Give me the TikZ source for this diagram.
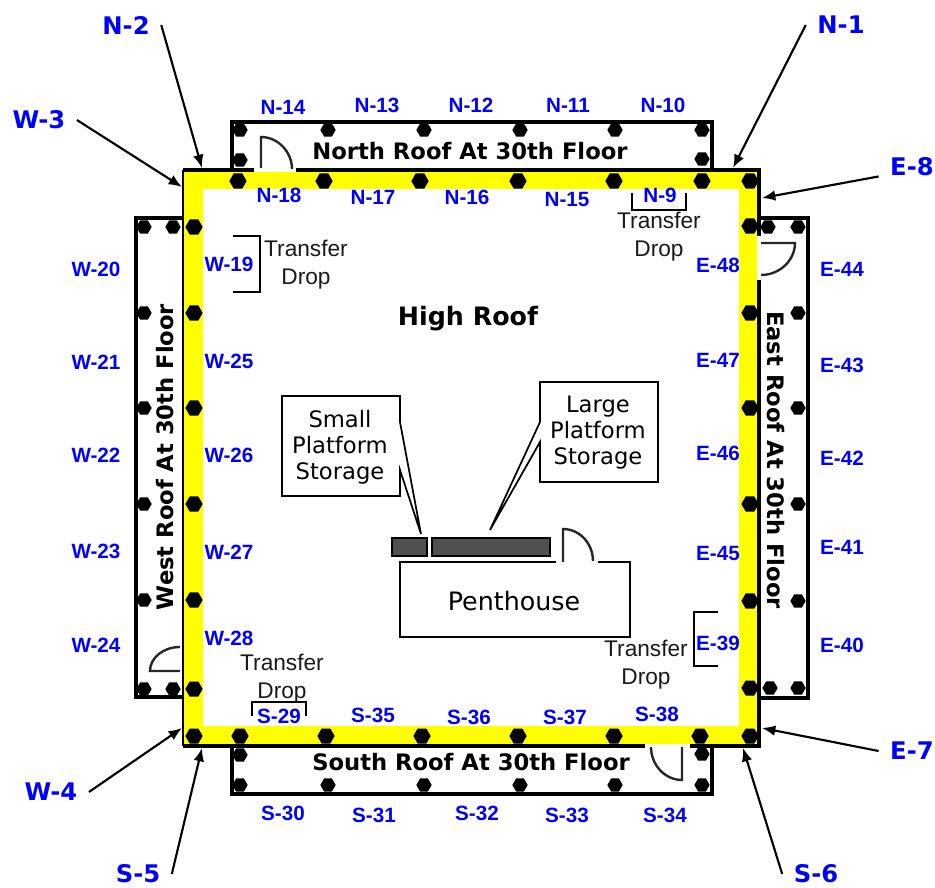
\documentclass[tikz,border=0pt]{standalone}
\usepackage{fontspec}
\setmainfont{Liberation Sans}
\newfontfamily\verdfont{DejaVu Sans}
\usepackage{xcolor}
\usetikzlibrary{shapes.geometric, arrows.meta}
\definecolor{labelblue}{RGB}{0,0,255}
\definecolor{storagegray}{RGB}{80,80,80}
\definecolor{wallyellow}{RGB}{255,255,0}

\begin{document}
\begin{tikzpicture}[x=0.75pt,y=-0.75pt]
	\tikzset{
		wall/.style={draw=black, line width=3pt},
		door/.style={draw=black!85, line width=1.8pt},
		bracket/.style={draw=black, line width=1.2pt},
		bolt/.style={regular polygon, regular polygon sides=6, fill=black, inner sep=0pt, minimum size=11.5pt},
		bigbolt/.style={bolt, minimum size=13pt},
		anchorlabel/.style={font=\fontsize{15.5}{18}\selectfont\bfseries, text=labelblue, inner sep=0pt},
		cornerlabel/.style={font=\fontsize{18.2}{22}\verdfont\bfseries, text=labelblue, inner xsep=8.5pt, inner ysep=0pt},
		roofname/.style={font=\fontsize{17}{20}\verdfont\bfseries, inner sep=0pt},
		notebox/.style={font=\fontsize{17}{19.5}\verdfont, align=center, inner sep=0pt},
		droptext/.style={font=\fontsize{17}{21}\selectfont, align=center, inner sep=0pt, text=black!90},
		pointer/.style={-{Latex[length=10pt,width=8pt]}, line width=1.6pt},
	}
	\useasboundingbox (0,0) rectangle (935,888);

	% roofs at 30th floor
	\draw[wall] (232,170) -- (232,122) -- (712,122) -- (712,170);
	\draw[wall] (232,746) -- (232,794) -- (712,794) -- (712,746);
	\draw[wall] (183,218) -- (136,218) -- (136,697) -- (183,697);
	\draw[wall] (760,218) -- (808,218) -- (808,698) -- (760,698);

	% high roof wall
	\fill[wallyellow, even odd rule] (183,172) rectangle (757,744) (203,189) rectangle (739,726);
	\draw[wall] (183,170) -- (254,170);
	\draw[wall] (296,170) -- (761,170);
	\draw[wall] (759,168) -- (759,236);
	\draw[wall] (759,280) -- (759,748);
	\draw[wall] (761,746) -- (690,746);
	\draw[wall] (645,746) -- (183,746);
	\draw[draw=black, line width=1.3pt] (183,170) -- (183,746);

	% doors
	\draw[door] (261,168) -- (261,137) .. controls (278,137) and (292,152) .. (292,169);
	\draw[door] (761,243) -- (795,243) .. controls (795,260) and (780,275) .. (761,275);
	\draw[door] (682,747) -- (682,780) .. controls (665,780) and (651,765) .. (651,747);
	\draw[door] (180,671) -- (150,671) .. controls (150,658) and (163,647) .. (180,647);
	\draw[door] (563,562) -- (563,529) .. controls (580,529) and (593,544) .. (593,561);

	% penthouse and storage
	\draw[draw=black, line width=1.5pt] (556,562) -- (400,562) -- (400,637) -- (630,637) -- (630,562) -- (598,562);
	\draw[draw=black, fill=storagegray, line width=1.3pt] (392,538) rectangle (427,556);
	\draw[draw=black, fill=storagegray, line width=1.3pt] (432,538) rectangle (550,556);
	\draw[draw=black, line width=1.3pt] (400,422) -- (400,396) -- (282,396) -- (282,496) -- (400,496) -- (400,470) -- (421,534) -- cycle;
	\draw[draw=black, line width=1.3pt] (540,422) -- (540,382) -- (658,382) -- (658,482) -- (540,482) -- (540,442) -- (490,530) -- cycle;

	% transfer drops
	\draw[bracket] (233,236) -- (260,236) -- (260,292) -- (233,292);
	\draw[bracket] (632,193) -- (632,210) -- (686,210) -- (686,193);
	\draw[bracket] (718,612) -- (694,612) -- (694,666) -- (718,666);
	\draw[bracket] (252,716) -- (252,702) -- (306,702) -- (306,716);

	% bolts, north roof
	\node[bolt](bn1) at (240,130){};
	\node[bolt](bn2) at (328,130){};
	\node[bolt](bn3) at (424,130){};
	\node[bolt](bn4) at (520,130){};
	\node[bolt](bn5) at (615,130){};
	\node[bolt](bn6) at (702,130){};
	\node[bolt](bn7) at (240,160){};
	\node[bolt](bn8) at (702,159){};
	% bolts, south roof
	\node[bolt](bs1) at (240,755){};
	\node[bolt](bs2) at (702,754){};
	\node[bolt](bs3) at (240,785){};
	\node[bolt](bs4) at (328,785){};
	\node[bolt](bs5) at (424,785){};
	\node[bolt](bs6) at (520,785){};
	\node[bolt](bs7) at (615,785){};
	\node[bolt](bs8) at (702,785){};
	% bolts, west roof
	\node[bolt](bw1) at (144,227){};
	\node[bolt](bw2) at (173,227){};
	\node[bolt](bw3) at (144,313){};
	\node[bolt](bw4) at (144,408){};
	\node[bolt](bw5) at (144,504){};
	\node[bolt](bw6) at (144,600){};
	\node[bolt](bw7) at (144,689){};
	\node[bolt](bw8) at (173,689){};
	% bolts, east roof
	\node[bolt](be1) at (768,227){};
	\node[bolt](be2) at (798,227){};
	\node[bolt](be3) at (798,313){};
	\node[bolt](be4) at (798,408){};
	\node[bolt](be5) at (798,504){};
	\node[bolt](be6) at (798,601){};
	\node[bolt](be7) at (770,688){};
	\node[bolt](be8) at (798,688){};
	% bolts, high roof wall
	\node[bigbolt](hn1) at (238,181){};
	\node[bigbolt](hn2) at (324,181){};
	\node[bigbolt](hn3) at (420,181){};
	\node[bigbolt](hn4) at (518,181){};
	\node[bigbolt](hn5) at (614,181){};
	\node[bigbolt](hn6) at (702,181){};
	\node[bigbolt](hn7) at (750,181){};
	\node[bigbolt](he1) at (750,226){};
	\node[bigbolt](he2) at (750,313){};
	\node[bigbolt](he3) at (750,408){};
	\node[bigbolt](he4) at (750,504){};
	\node[bigbolt](he5) at (750,601){};
	\node[bigbolt](he6) at (750,688){};
	\node[bigbolt](hs1) at (750,736){};
	\node[bigbolt](hs2) at (700,736){};
	\node[bigbolt](hs3) at (614,736){};
	\node[bigbolt](hs4) at (518,736){};
	\node[bigbolt](hs5) at (422,736){};
	\node[bigbolt](hs6) at (326,736){};
	\node[bigbolt](hs7) at (240,736){};
	\node[bigbolt](hs8) at (194,736){};
	\node[bigbolt](hw1) at (194,689){};
	\node[bigbolt](hw2) at (194,600){};
	\node[bigbolt](hw3) at (194,504){};
	\node[bigbolt](hw4) at (194,408){};
	\node[bigbolt](hw5) at (194,313){};
	\node[bigbolt](hw6) at (194,227){};

	% anchor numbers
	\node[anchorlabel](n14) at (283,107){N-14};
	\node[anchorlabel](n13) at (377,105){N-13};
	\node[anchorlabel](n12) at (471,105){N-12};
	\node[anchorlabel](n11) at (568,105){N-11};
	\node[anchorlabel](n10) at (663,105){N-10};
	\node[anchorlabel](n18) at (279,195){N-18};
	\node[anchorlabel](n17) at (373,197){N-17};
	\node[anchorlabel](n16) at (467,197){N-16};
	\node[anchorlabel](n15) at (567,199){N-15};
	\node[anchorlabel](n9) at (660,195){N-9};
	\node[anchorlabel](w20) at (96,269){W-20};
	\node[anchorlabel](w21) at (96,362){W-21};
	\node[anchorlabel](w22) at (96,455){W-22};
	\node[anchorlabel](w23) at (96,551){W-23};
	\node[anchorlabel](w24) at (96,645){W-24};
	\node[anchorlabel](w19) at (229,264){W-19};
	\node[anchorlabel](w25) at (229,361){W-25};
	\node[anchorlabel](w26) at (229,455){W-26};
	\node[anchorlabel](w27) at (229,552){W-27};
	\node[anchorlabel](w28) at (229,638){W-28};
	\node[anchorlabel](e48) at (718,265){E-48};
	\node[anchorlabel](e47) at (718,360){E-47};
	\node[anchorlabel](e46) at (718,453){E-46};
	\node[anchorlabel](e45) at (718,553){E-45};
	\node[anchorlabel](e39) at (718,643){E-39};
	\node[anchorlabel](e44) at (842,269){E-44};
	\node[anchorlabel](e43) at (842,365){E-43};
	\node[anchorlabel](e42) at (842,458){E-42};
	\node[anchorlabel](e41) at (842,547){E-41};
	\node[anchorlabel](e40) at (842,645){E-40};
	\node[anchorlabel](s29) at (279,716){S-29};
	\node[anchorlabel](s35) at (373,715){S-35};
	\node[anchorlabel](s36) at (469,717){S-36};
	\node[anchorlabel](s37) at (565,717){S-37};
	\node[anchorlabel](s38) at (657,714){S-38};
	\node[anchorlabel](s30) at (283,813){S-30};
	\node[anchorlabel](s31) at (374,815){S-31};
	\node[anchorlabel](s32) at (477,813){S-32};
	\node[anchorlabel](s33) at (567,815){S-33};
	\node[anchorlabel](s34) at (665,815){S-34};

	% area names
	\node[roofname](north) at (470,151){North Roof At 30th Floor};
	\node[roofname](south) at (471,762){South Roof At 30th Floor};
	\node[roofname, rotate=90](west) at (165,457){West Roof At 30th Floor};
	\node[roofname, rotate=-90](east) at (776,460){East Roof At 30th Floor};
	\node[roofname, font=\fontsize{19}{23}\verdfont\bfseries](high) at (468,319){High Roof};
	\node[notebox, font=\fontsize{19}{22}\verdfont](pent) at (514,601){Penthouse};
	\node[notebox](small) at (340,447){Small\\Platform\\Storage};
	\node[notebox](large) at (598,433){Large\\Platform\\Storage};
	\node[droptext](dropw) at (306,265){Transfer\\Drop};
	\node[droptext](dropn) at (659,237){Transfer\\Drop};
	\node[droptext](drope) at (646,665){Transfer\\Drop};
	\node[droptext](drops) at (282,679){Transfer\\Drop};

	% corner labels
	\node[cornerlabel](n2) at (126,25){N-2};
	\node[cornerlabel](n1) at (841,25){N-1};
	\node[cornerlabel](w3) at (39,120){W-3};
	\node[cornerlabel](e8) at (912,167){E-8};
	\node[cornerlabel](w4) at (51,792){W-4};
	\node[cornerlabel](e7) at (912,751){E-7};
	\node[cornerlabel](s5) at (138,874){S-5};
	\node[cornerlabel](s6) at (816,874){S-6};

	\coordinate(c2) at (202,168);
	\coordinate(c1) at (733,168);
	\coordinate(c3) at (182,187);
	\coordinate(c8) at (762,198);
	\coordinate(c4) at (182,728);
	\coordinate(c7) at (762,728);
	\coordinate(c5) at (202,748);
	\coordinate(c6) at (743,748);

	\draw[pointer](n2.east) -- (c2);
	\draw[pointer](n1.west) -- (c1);
	\draw[pointer](w3.east) -- (c3);
	\draw[pointer](e8.south west) -- (c8);
	\draw[pointer](w4.east) -- (c4);
	\draw[pointer](e7.west) -- (c7);
	\draw[pointer](s5.east) -- (c5);
	\draw[pointer](s6.west) -- (c6);
\end{tikzpicture}
\end{document}
